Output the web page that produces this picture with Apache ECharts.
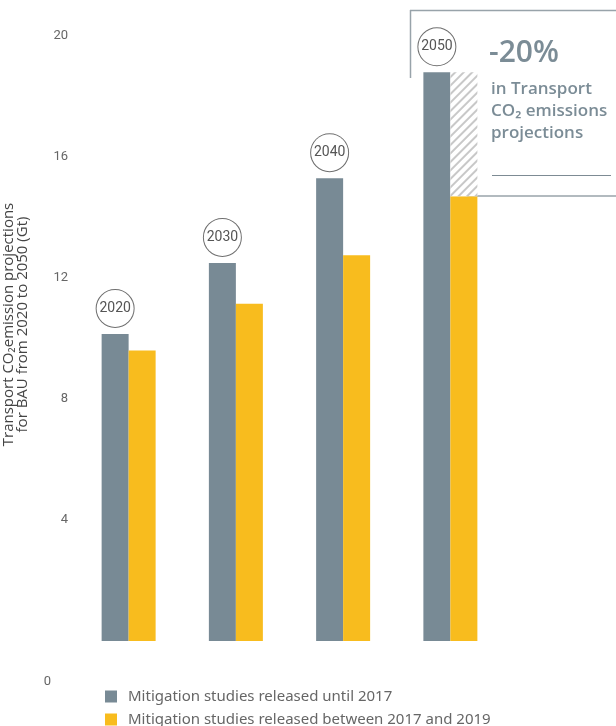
<!DOCTYPE html>
<html><head><meta charset="utf-8">
<script src="https://cdn.jsdelivr.net/npm/echarts@6/dist/echarts.min.js"></script>
<style>html,body{margin:0;padding:0;background:#fff}#c{width:616px;height:726px}</style>
</head><body><div id="c"></div>
<script>
const years = ['2020', '2030', '2040', '2050'];
const until2017 = [10.15, 12.5, 15.3, 18.8];
const between2017and2019 = [9.6, 11.15, 12.75, 14.7];
const yTicks = [0, 4, 8, 12, 16, 20];
const seriesNames = ['Mitigation studies released until 2017', 'Mitigation studies released between 2017 and 2019'];
const annotationPct = '-20%';
const annotationLines = ['in Transport', 'CO₂ emissions', 'projections'];

const GRAY = '#788a95', YELLOW = '#f8bc1e', TXT = '#666';
const gap = until2017.map((g, i) => i === years.length - 1 ? +(g - between2017and2019[i]).toFixed(2) : null);

const legendCommon = {
  orient: 'vertical', left: 100, itemWidth: 12, itemHeight: 12, icon: 'rect',
  textStyle: {color: TXT, fontSize: 15, fontFamily: 'Noto Sans', padding: [0, 0, 0, 6]}
};

const chart = echarts.init(document.getElementById('c'), null, {renderer: 'canvas'});
chart.setOption({
  animation: false,
  grid: {left: 75, right: 112, top: 36, bottom: 85, outerBoundsMode: 'none', containLabel: false},
  xAxis: {type: 'category', data: years, axisLine: {show: false}, axisTick: {show: false}, axisLabel: {show: false}},
  yAxis: {
    type: 'value', min: yTicks[0], max: yTicks[yTicks.length - 1], interval: yTicks[1] - yTicks[0],
    splitLine: {show: false}, axisLine: {show: false}, axisTick: {show: false},
    axisLabel: {
      margin: 7, color: TXT, fontSize: 13, fontFamily: 'Roboto',
      formatter: v => v === 0 ? '{z|0}' : String(v),
      rich: {z: {fontSize: 13, color: TXT, fontFamily: 'Roboto', padding: [82, 17, 0, 0]}}
    },
    name: 'Transport CO₂emission projections\nfor BAU from 2020 to 2050 (Gt)',
    nameLocation: 'middle', nameGap: 45,
    nameTextStyle: {color: '#444', fontSize: 15, fontFamily: 'Open Sans', lineHeight: 14, padding: [0, 0, 0, 28]}
  },
  legend: [
    Object.assign({data: [seriesNames[0]], top: 684}, legendCommon),
    Object.assign({data: [seriesNames[1]], top: 707}, legendCommon)
  ],
  series: [
    {
      name: seriesNames[0], type: 'bar', data: until2017, barWidth: 27, barGap: '0%',
      itemStyle: {color: GRAY},
      label: {
        show: true, position: 'top', distance: 7, formatter: '{b}',
        color: '#555', fontSize: 14, fontFamily: 'Roboto',
        width: 37, height: 37, lineHeight: 37, align: 'center', borderRadius: 19,
        borderColor: '#6f6f6f', borderWidth: 1, backgroundColor: '#fff'
      }
    },
    {name: seriesNames[1], type: 'bar', stack: 'y', data: between2017and2019, barWidth: 27, itemStyle: {color: YELLOW}},
    {
      name: 'gap', type: 'bar', stack: 'y', data: gap, barWidth: 27,
      itemStyle: {color: '#fff', decal: {symbol: 'rect', symbolSize: 1, dashArrayX: [1, 0], dashArrayY: [1.5, 3.5], rotation: -Math.PI / 4, color: '#c8c8c8'}}
    }
  ],
  graphic: [
    {type: 'line', shape: {x1: 410, y1: 10.5, x2: 616, y2: 10.5}, style: {stroke: '#98a3aa', lineWidth: 1.5}, z: 1},
    {type: 'line', shape: {x1: 410.5, y1: 10, x2: 410.5, y2: 78}, style: {stroke: '#98a3aa', lineWidth: 1.5}, z: 1},
    {type: 'line', shape: {x1: 467, y1: 196, x2: 616, y2: 196}, style: {stroke: '#98a3aa', lineWidth: 1.5}, z: 1},
    {type: 'line', shape: {x1: 492, y1: 175.5, x2: 611, y2: 175.5}, style: {stroke: '#7d8b94', lineWidth: 1}, z: 1},
    {type: 'text', left: 489, top: 38, style: {text: annotationPct, fill: '#7b8c96', font: '600 30px "Open Sans"'}},
    {type: 'text', left: 491, top: 78, style: {text: annotationLines.join('\n'), fill: '#7b8c96', font: '600 17px "Open Sans"', lineHeight: 22}}
  ]
});
</script></body></html>
